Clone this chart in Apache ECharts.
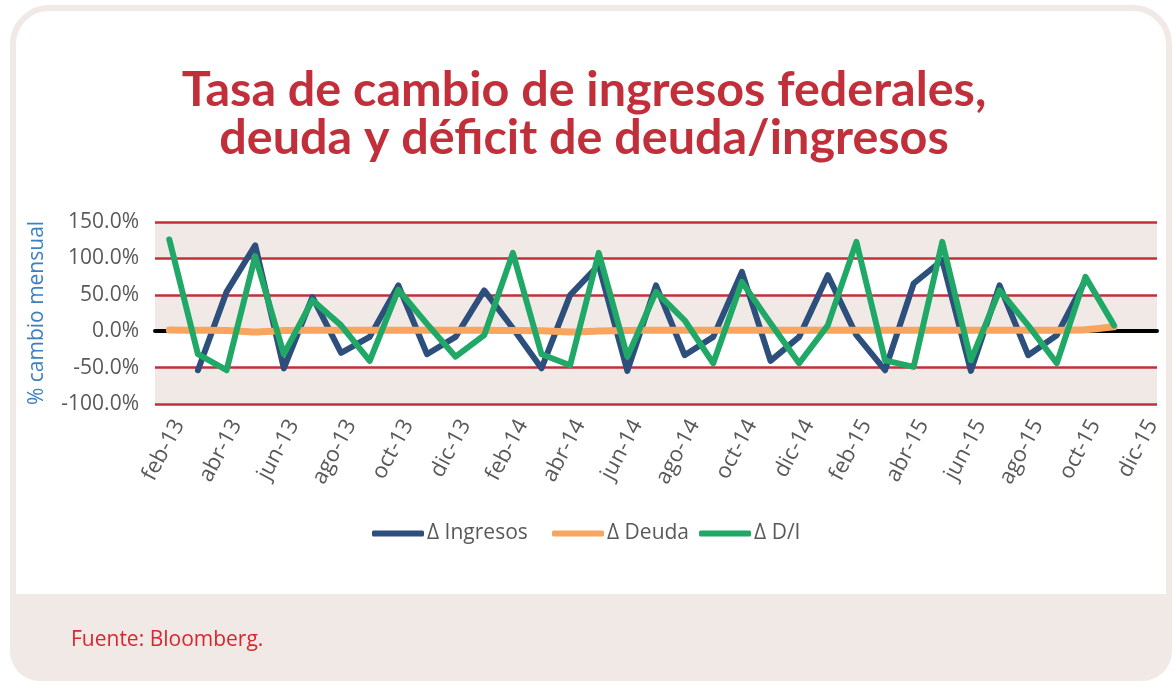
<!DOCTYPE html>
<html>
<head>
<meta charset="utf-8">
<script src="https://cdn.jsdelivr.net/npm/echarts@6/dist/echarts.min.js"></script>
<style>
  html, body { margin: 0; padding: 0; background: #fff; }
  #main { width: 1172px; height: 681px; }
</style>
</head>
<body>
<div id="main"></div>
<script>
// months feb-13 .. dic-15 (monthly), labels shown every other month
var meses = ['feb-13','mar-13','abr-13','may-13','jun-13','jul-13','ago-13','sep-13','oct-13','nov-13','dic-13',
             'ene-14','feb-14','mar-14','abr-14','may-14','jun-14','jul-14','ago-14','sep-14','oct-14','nov-14','dic-14',
             'ene-15','feb-15','mar-15','abr-15','may-15','jun-15','jul-15','ago-15','sep-15','oct-15','nov-15','dic-15'];

// % cambio mensual
var ingresos = [null, -53.6, 54, 118, -51, 46.7, -29.8, -7.8, 63, -31.6, -7.8,
                56, 4, -51, 49.5, 90.7, -54.5, 63, -33, -7.8, 81.5, -40.8, -7.8,
                77, -5.5, -53.6, 65.5, 97.5, -54.5, 63, -33, -5.5, 70, null, null];
var deuda = [1.5, 1.2, 1, -1, 0.8, 1.2, 1.3, 1.2, 1.4, 1.2, 1.3,
             1.2, 1, 0.6, -1, 0.2, 1, 1.3, 1.4, 1.2, 1.3, 1.2, 1.3,
             1.4, 1.3, 1.2, 1.3, 1.4, 1.2, 1.3, 1.2, 1.4, 2, 6, null];
var deudaIngresos = [126, -31.6, -53.6, 103, -31.6, 42.6, 8, -40.8, 57, 10, -35,
                     -5.5, 107.6, -31.6, -46.7, 107.6, -35, 54, 15, -44, 67.7, 11, -44,
                     8, 122.7, -40, -49, 122.7, -40, 56, 8, -44, 74.6, 8, null];

var grisTexto = '#595959';
var rojo = '#c1303a';
var fuente = "'Open Sans', sans-serif";

var chart = echarts.init(document.getElementById('main'));

var leyendaBase = {
    top: 523,
    padding: 0,
    icon: 'roundRect',
    itemWidth: 52,
    itemHeight: 6,
    itemGap: 10,
    textStyle: {
        color: grisTexto,
        fontFamily: fuente,
        fontSize: 21,
        padding: [0, 0, 0, -2]
    }
};

var option = {
    backgroundColor: '#fff',
    animation: false,
    title: [
        {
            text: 'Tasa de cambio de ingresos federales,\ndeuda y déficit de deuda/ingresos',
            left: 579,
            top: 61,
            textAlign: 'center',
            textStyle: {
                color: rojo,
                fontFamily: "Lato, 'Open Sans', sans-serif",
                fontWeight: 'bold',
                fontSize: 48.5,
                lineHeight: 48
            }
        },
        {
            text: 'Fuente: Bloomberg.',
            left: 66,
            top: 625,
            textStyle: {
                color: '#d9262f',
                fontFamily: fuente,
                fontWeight: 'normal',
                fontSize: 21
            }
        }
    ],
    graphic: [
        // card frame
        {
            type: 'rect', z: -10, silent: true,
            shape: {x: 13, y: 8, width: 1156, height: 668, r: 36},
            style: {fill: '#fff', stroke: '#f0e9e6', lineWidth: 6}
        },
        // footer band
        {
            type: 'rect', z: -9, silent: true,
            shape: {x: 10, y: 594, width: 1162, height: 87, r: [0, 0, 30, 30]},
            style: {fill: '#f0e9e6'}
        }
    ],
    legend: [
        Object.assign({}, leyendaBase, {data: ['Δ Ingresos'], left: 372}),
        Object.assign({}, leyendaBase, {data: ['Δ Deuda', 'Δ D/I'], left: 552})
    ],
    grid: {left: 155, right: 15, top: 222, bottom: 277},
    xAxis: {
        type: 'category',
        data: meses,
        boundaryGap: true,
        // black zero line (on y = 0)
        axisLine: {show: true, onZero: true, lineStyle: {color: '#000', width: 4}},
        axisTick: {show: false},
        axisLabel: {
            interval: 1,
            rotate: 62,
            margin: 12,
            verticalAlign: 'top',
            color: grisTexto,
            fontFamily: fuente,
            fontSize: 22
        }
    },
    yAxis: {
        type: 'value',
        min: -100,
        max: 150,
        interval: 50,
        name: '% cambio mensual',
        nameLocation: 'middle',
        nameRotate: 90,
        nameGap: 107,
        nameTextStyle: {
            color: '#3b80c3',
            fontFamily: fuente,
            fontSize: 21
        },
        axisLine: {show: false},
        axisTick: {show: false},
        axisLabel: {
            margin: 16,
            color: grisTexto,
            fontFamily: fuente,
            fontSize: 21,
            formatter: function (v) { return v.toFixed(1) + '%'; }
        },
        splitLine: {lineStyle: {color: rojo, width: 2.5}},
        splitArea: {show: true, areaStyle: {color: ['#f1e9e6', '#ffffff']}}
    },
    series: [
        {
            name: 'Δ Ingresos',
            type: 'line',
            data: ingresos,
            showSymbol: false,
            lineStyle: {color: '#2c4f7c', width: 6, cap: 'round', join: 'round'},
            itemStyle: {color: '#2c4f7c'},
            z: 3
        },
        {
            name: 'Δ Deuda',
            type: 'line',
            data: deuda,
            showSymbol: false,
            smooth: 0.3,
            lineStyle: {color: '#f7a55f', width: 7, cap: 'round', join: 'round'},
            itemStyle: {color: '#f7a55f'},
            z: 4
        },
        {
            name: 'Δ D/I',
            type: 'line',
            data: deudaIngresos,
            showSymbol: false,
            lineStyle: {color: '#1fa866', width: 6, cap: 'round', join: 'round'},
            itemStyle: {color: '#1fa866'},
            z: 5
        }
    ]
};

chart.setOption(option);
</script>
</body>
</html>
